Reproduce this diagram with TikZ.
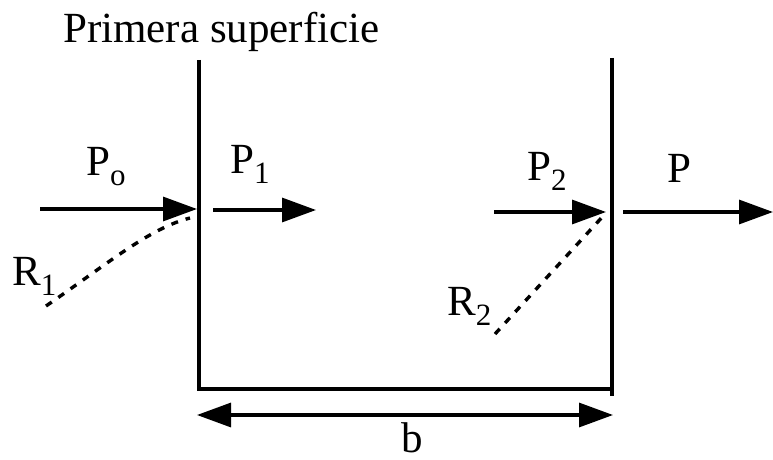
\documentclass[tikz,border=0pt]{standalone}
\usepackage{fontspec}
\setmainfont{Liberation Serif}
\usetikzlibrary{arrows.meta}
\newcommand\mysubs[1]{\raisebox{-10pt}{\fontsize{31}{31}\selectfont #1}}
\begin{document}
\begin{tikzpicture}[x=1pt,y=-1pt,
  wire/.style={line width=3.2pt},
  arr/.style={line width=3.2pt,-{Triangle[length=34pt,width=24pt]}},
  darr/.style={line width=3.2pt,{Triangle[length=34pt,width=24pt]}-{Triangle[length=34pt,width=24pt]}},
  dots/.style={line width=3.4pt,dash pattern=on 7pt off 8pt},
  lbl/.style={font=\fontsize{43}{48}\selectfont,inner sep=0pt,anchor=base west}]
\useasboundingbox (0,0) rectangle (773,460);
% walls
\coordinate (lt) at (199,60);
\coordinate (lb) at (199,389);
\coordinate (rb) at (612,389);
\coordinate (rt) at (612,58);
\coordinate (rbot) at (612,396);
\draw[wire] (lt) -- (lb) -- (rb);
\draw[wire] (rt) -- (rbot);
% title
\node[lbl] (title) at (63,43) {Primera superficie};
% P0
\coordinate (p0a) at (40,209);
\coordinate (p0b) at (197,209);
\draw[arr] (p0a) -- (p0b);
\node[lbl] (p0l) at (86,175) {P\mysubs{o}};
% R1
\coordinate (r1a) at (46,306);
\coordinate (r1b) at (190,218);
\draw[dots] (r1a) .. controls (110,262) and (150,228) .. (r1b);
\node[lbl] (r1l) at (12,285) {R\mysubs{1}};
% P1
\coordinate (p1a) at (213,210);
\coordinate (p1b) at (316,210);
\draw[arr] (p1a) -- (p1b);
\node[lbl] (p1l) at (230,173) {P\mysubs{1}};
% P2
\coordinate (p2a) at (494,212);
\coordinate (p2b) at (606,212);
\draw[arr] (p2a) -- (p2b);
\node[lbl] (p2l) at (527,180) {P\mysubs{2}};
% R2
\coordinate (r2a) at (495,334);
\coordinate (r2b) at (605,214);
\draw[dots] (r2a) -- (r2b);
\node[lbl] (r2l) at (447,315) {R\mysubs{2}};
% P
\coordinate (pa) at (623,212);
\coordinate (pb) at (773,212);
\draw[arr] (pa) -- (pb);
\node[lbl] (pl) at (667,182) {P};
% b
\coordinate (ba) at (197,415);
\coordinate (bb) at (613,415);
\draw[darr] (ba) -- (bb);
\node[lbl] (bl) at (401,452) {b};
\end{tikzpicture}
\end{document}
